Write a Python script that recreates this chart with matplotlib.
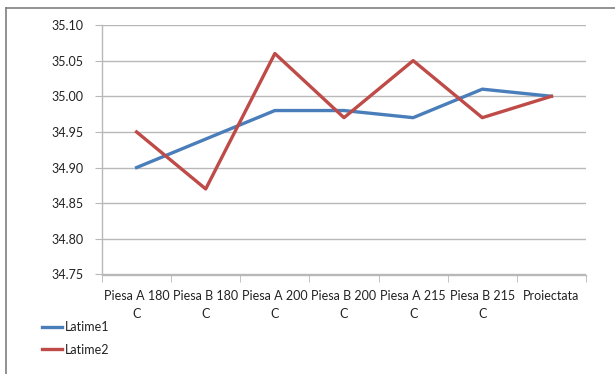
import matplotlib.pyplot as plt
from matplotlib.lines import Line2D
import numpy as np

plt.rcParams['font.family'] = ['Lato', 'DejaVu Sans']

categories = ["Piesa A 180\nC", "Piesa B 180\nC", "Piesa A 200\nC", "Piesa B 200\nC",
              "Piesa A 215\nC", "Piesa B 215\nC", "Proiectata\n"]
latime1 = [34.90, 34.94, 34.98, 34.98, 34.97, 35.01, 35.00]
latime2 = [34.95, 34.87, 35.06, 34.97, 35.05, 34.97, 35.00]
yticks = [34.75, 34.80, 34.85, 34.90, 34.95, 35.00, 35.05, 35.10]

BLUE = "#4a7ebb"
RED = "#be4b48"
GRID = "#b8b8b8"
TEXT = "#222222"

W, H = 615, 374
fig = plt.figure(figsize=(W / 100, H / 100), dpi=100)
ax = fig.add_axes([102 / W, 1 - 274.5 / H, 484 / W, 249.5 / H])

x = np.arange(len(categories))
ax.plot(x, latime1, color=BLUE, lw=2.4, label="Latime1")
ax.plot(x, latime2, color=RED, lw=2.4, label="Latime2")

ax.set_xlim(-0.5, len(categories) - 0.5)
ax.set_ylim(34.75, 35.10)
ax.set_yticks(yticks)
ax.set_yticklabels([f"{v:.2f}" for v in yticks])
ax.yaxis.grid(True, color=GRID, lw=1)
ax.set_axisbelow(True)

ax.set_xticks(x)
ax.set_xticklabels(categories, linespacing=1.6)
ax.set_xticks(np.arange(-0.5, len(categories)), minor=True)
ax.tick_params(axis="x", which="major", length=0, pad=11, labelsize=9, labelcolor=TEXT)
ax.tick_params(axis="x", which="minor", length=5, color=GRID, direction="out")
ax.tick_params(axis="y", length=5, color=GRID, pad=8, labelsize=9, labelcolor=TEXT)

for s in ["top", "right"]:
    ax.spines[s].set_visible(False)
for s in ["left", "bottom"]:
    ax.spines[s].set_color(GRID)
    ax.spines[s].set_linewidth(1)

fig.legend(loc="upper left", bbox_to_anchor=(42 / W, 1 - 321 / H), frameon=False,
           fontsize=9, handlelength=1.6, handletextpad=0.2, labelspacing=0.85,
           borderpad=0, borderaxespad=0, labelcolor=TEXT)

# outer chart frame
fig.add_artist(Line2D([6 / W, 1], [1 - 8 / H, 1 - 8 / H], color="#7f7f7f", lw=1.2))
fig.add_artist(Line2D([6 / W, 6 / W], [0, 1 - 8 / H], color="#7f7f7f", lw=1.2))

fig.savefig("out.png", dpi=100)
